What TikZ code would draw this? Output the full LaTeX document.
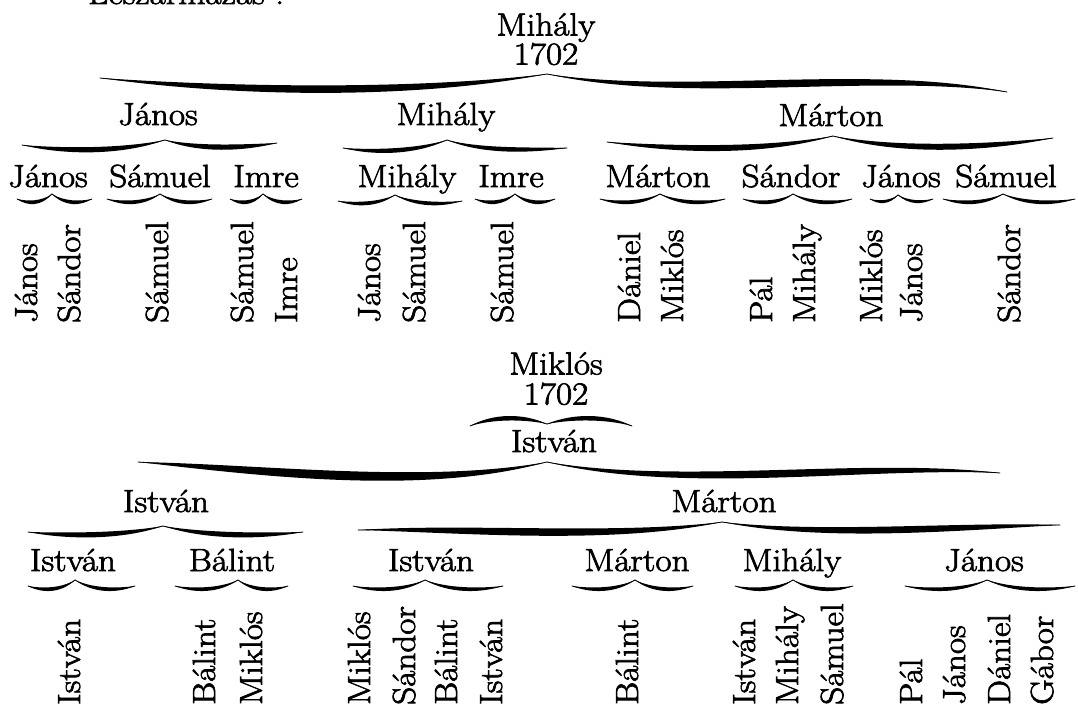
\documentclass[tikz,border=0pt]{standalone}
\usepackage{fontspec}
\setmainfont{Latin Modern Roman}[FakeStretch=1.1, FakeBold=2.2]
\newcommand\namefont{\fontsize{32}{28}\selectfont}
% one half of a tapered brace: xE yE xC yC ya yb t
\newcommand\bhalf[7]{%
  \pgfmathsetmacro\bxa{#1+0.3*(#3-#1)}%
  \pgfmathsetmacro\bxb{#3-0.3*(#3-#1)}%
  \fill ({#1},{#2}) .. controls ({\bxa},{#5-#7}) and ({\bxb},{#6-#7}) .. ({#3},{#4})
        .. controls ({\bxb},{#6+#7}) and ({\bxa},{#5+#7}) .. ({#1},{#2});
  \draw[bline] ({#1},{#2}) .. controls ({\bxa},{#5}) and ({\bxb},{#6}) .. ({#3},{#4});
}
% simple brace: x1 xm x2 yEnd yArm yCusp t
\newcommand\sbrace[7]{%
  \bhalf{#1}{#4}{#2}{#6}{#5}{#5}{#7}%
  \bhalf{#3}{#4}{#2}{#6}{#5}{#5}{#7}%
}
\tikzset{
  nm/.style={inner sep=0pt, anchor=base, font=\namefont},
  root/.style={inner sep=0pt, anchor=north, align=center, font=\namefont},
  vn/.style={inner sep=0pt, rotate=90, anchor=base west, font=\namefont},
  bline/.style={line width=0.8pt, line cap=round}
}
\begin{document}
\begin{tikzpicture}[x=1pt,y=-1pt]
\useasboundingbox (0,0) rectangle (1078,709);
\clip (0,0) rectangle (1078,709);
\fill[white] (0,0) rectangle (1078,709);

% partly visible heading
\node[nm, anchor=base west] (head) at (88,4) {Leszármazás :};

% ---------- first tree ----------
\node[root] (t1r) at (546,13) {Mihály\\1702};
\bhalf{100}{78}{547}{74}{92}{95}{5}
\bhalf{1007}{92}{547}{74}{68}{100}{5}

\node[nm] (a1) at (158,125) {János};
\node[nm] (a2) at (446,125) {Mihály};
\node[nm] (a3) at (831,126) {Márton};

\bhalf{22}{145}{165}{140}{152}{152}{3.5}
\bhalf{277}{143}{165}{140}{148}{150}{3.5}
\bhalf{343}{148}{447}{140}{153}{152}{3}
\bhalf{567}{148}{447}{140}{150}{152}{3}
\bhalf{607}{142}{833}{136}{150}{152}{4}
\bhalf{1053}{138}{833}{136}{148}{152}{4}

\node[nm] (b1) at (48,187) {János};
\node[nm] (b2) at (160,187) {Sámuel};
\node[nm] (b3) at (266,187) {Imre};
\node[nm] (b4) at (407,187) {Mihály};
\node[nm] (b5) at (511,187) {Imre};
\node[nm] (b6) at (658,187) {Márton};
\node[nm] (b7) at (791,187) {Sándor};
\node[nm] (b8) at (901,187) {János};
\node[nm] (b9) at (1006,187) {Sámuel};

\sbrace{17}{52}{92}{199}{204}{194}{2.5}
\sbrace{107}{160}{212}{199}{204}{194}{2.5}
\sbrace{230}{263}{302}{199}{204}{194}{2.5}
\sbrace{338}{395}{462}{201}{205}{195}{2.5}
\sbrace{475}{515}{555}{199}{204}{194}{2.5}
\sbrace{600}{660}{725}{199}{204}{194}{2.5}
\sbrace{743}{793}{852}{199}{204}{194}{2.5}
\sbrace{870}{898}{933}{199}{203}{195}{2}
\sbrace{943}{1003}{1075}{199}{204}{194}{2.5}

\node[vn] (c1) at (37,323) {János};
\node[vn] (c2) at (80,323) {Sándor};
\node[vn] (c3) at (168,323) {Sámuel};
\node[vn] (c4) at (253,323) {Sámuel};
\node[vn] (c5) at (297,323) {Imre};
\node[vn] (c6) at (380,323) {János};
\node[vn] (c7) at (425,323) {Sámuel};
\node[vn] (c8) at (513,323) {Sámuel};
\node[vn] (c9) at (640,323) {Dániel};
\node[vn] (c10) at (683,323) {Miklós};
\node[vn] (c11) at (772,323) {Pál};
\node[vn] (c12) at (815,323) {Mihály};
\node[vn] (c13) at (882,323) {Miklós};
\node[vn] (c14) at (922,323) {János};
\node[vn] (c15) at (1020,323) {Sándor};

% ---------- second tree ----------
\node[root, font=\fontsize{32}{30}\selectfont] (t2r) at (556,352) {Miklós\\1702};
\sbrace{470}{547}{632}{426}{416}{424}{3}
\node[nm] (t2s) at (554,452) {István};

\bhalf{138}{462}{547}{462}{470}{490}{6}
\bhalf{1000}{473}{547}{462}{462}{490}{5}

\node[nm] (d1) at (166,512) {István};
\node[nm] (d2) at (724,512) {Márton};

\sbrace{28}{163}{303}{532}{536.5}{526}{3.5}
\bhalf{358}{530}{722}{522}{528}{540}{5}
\bhalf{1060}{525}{722}{522}{526}{538}{4.5}

\node[nm] (e1) at (73,571) {István};
\node[nm] (e2) at (232,571) {Bálint};
\node[nm] (e3) at (431,571) {István};
\node[nm] (e4) at (637,571) {Márton};
\node[nm] (e5) at (792,571) {Mihály};
\node[nm] (e6) at (984,571) {János};

\sbrace{28}{75}{135}{586}{591}{580}{2.5}
\sbrace{175}{238}{288}{586}{591}{580}{2.5}
\sbrace{353}{425}{503}{586}{591}{580}{2.5}
\sbrace{572}{635}{693}{586}{591}{580}{2.5}
\sbrace{735}{793}{853}{586}{591}{580}{2.5}
\sbrace{905}{987}{1075}{586}{591}{580}{2.5}

\node[vn] (f1) at (80,705) {István};
\node[vn] (f2) at (215,705) {Bálint};
\node[vn] (f3) at (262,705) {Miklós};
\node[vn] (f4) at (370,705) {Miklós};
\node[vn] (f5) at (415,705) {Sándor};
\node[vn] (f6) at (457,705) {Bálint};
\node[vn] (f7) at (502,705) {István};
\node[vn] (f8) at (638,705) {Bálint};
\node[vn] (f9) at (755,705) {István};
\node[vn] (f10) at (798,705) {Mihály};
\node[vn] (f11) at (843,705) {Sámuel};
\node[vn] (f12) at (922,705) {Pál};
\node[vn] (f13) at (965,705) {János};
\node[vn] (f14) at (1010,705) {Dániel};
\node[vn] (f15) at (1053,705) {Gábor};
\end{tikzpicture}
\end{document}
